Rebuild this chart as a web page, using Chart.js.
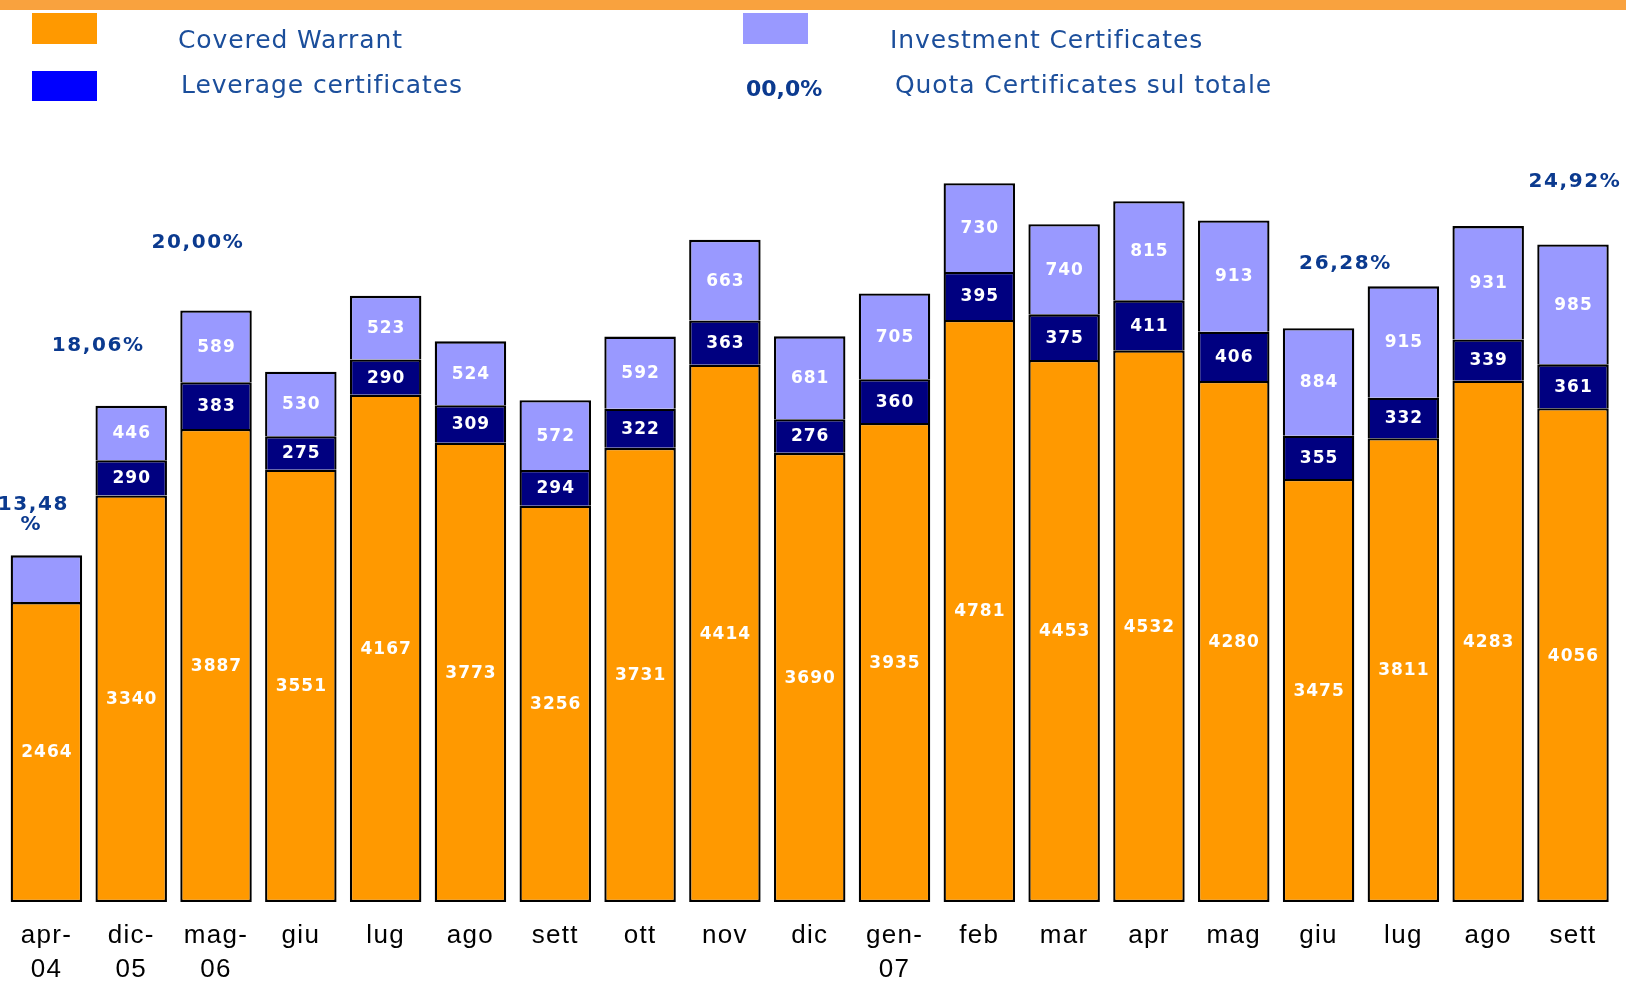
<!DOCTYPE html>
<html>
<head>
<meta charset="utf-8">
<script src="https://cdn.jsdelivr.net/npm/chart.js@4.4.1/dist/chart.umd.min.js"></script>
<style>
html,body{margin:0;padding:0;background:#fff;overflow:hidden}
#wrap{position:relative;width:1626px;height:981px}
canvas{display:block}
</style>
</head>
<body>
<div id="wrap"><canvas id="c" width="1626" height="981"></canvas></div>
<script>
// ---- data ----
const categories = [['apr-','04'],['dic-','05'],['mag-','06'],'giu','lug','ago','sett','ott','nov','dic',['gen-','07'],'feb','mar','apr','mag','giu','lug','ago','sett'];
const coveredWarrant = [2464,3340,3887,3551,4167,3773,3256,3731,4414,3690,3935,4781,4453,4532,4280,3475,3811,4283,4056];
const leverageCertificates = [null,290,383,275,290,309,294,322,363,276,360,395,375,411,406,355,332,339,361];
const investmentCertificates = [384,446,589,530,523,524,572,592,663,681,705,730,740,815,913,884,915,931,985];
const quotaCertificates = [13.48,18.06,20.00,null,null,null,null,null,null,null,null,null,null,null,null,26.28,null,null,24.92];
const seriesNames = ['Covered Warrant','Leverage certificates','Investment Certificates','Quota Certificates sul totale'];
const legendSample = '00,0%';

// ---- style ----
const COL_CW = '#FF9900', COL_LC = '#000080', COL_LC_LEG = '#0000FF', COL_IC = '#9999FF';
const TXT_BLUE = '#1B4E9B', PCT_BLUE = '#0B3A8F';

const decor = {
  id: 'decor',
  beforeDraw(chart) {
    chart.ctx.letterSpacing = '1.3px';
  },
  afterDraw(chart, args, opts) {
    const c = chart.ctx;
    c.save();
    // top stripe
    c.fillStyle = '#F9A23E';
    c.fillRect(0, 0, chart.width, 10);
    // legend swatches
    c.fillStyle = COL_CW;  c.fillRect(32, 13, 65, 31);
    c.fillStyle = COL_LC_LEG; c.fillRect(32, 71, 65, 30);
    c.fillStyle = COL_IC;  c.fillRect(743, 13, 65, 31);
    // legend texts
    c.textBaseline = 'alphabetic';
    c.textAlign = 'left';
    c.fillStyle = TXT_BLUE;
    c.font = '25px "DejaVu Sans"';
    c.letterSpacing = '0.9px';
    c.fillText(seriesNames[0], 178, 48);
    c.fillText(seriesNames[1], 181, 93);
    c.fillText(seriesNames[2], 890, 48);
    c.fillText(seriesNames[3], 895, 93);
    c.fillStyle = PCT_BLUE;
    c.font = 'bold 22px "DejaVu Sans"';
    c.letterSpacing = '0px';
    c.fillText(legendSample, 746, 96);

    // segment value labels
    c.font = 'bold 17px "DejaVu Sans"';
    c.letterSpacing = '1px';
    c.fillStyle = '#FFFFFF';
    c.textAlign = 'center';
    c.textBaseline = 'middle';
    chart.data.datasets.forEach((ds, di) => {
      const meta = chart.getDatasetMeta(di);
      meta.data.forEach((el, i) => {
        const v = ds.data[i];
        if (v == null) return;
        if (opts.skip.some(s => s.dataset === di && s.index === i)) return;
        const p = el.getProps(['x', 'y', 'base'], true);
        c.fillText(String(v), p.x + 0.5, (p.y + p.base) / 2 + 1);
      });
    });

    // percentage labels
    c.font = 'bold 20px "DejaVu Sans"';
    c.letterSpacing = '1.6px';
    c.fillStyle = PCT_BLUE;
    const topMeta = chart.getDatasetMeta(2);
    quotaCertificates.forEach((q, i) => {
      if (q == null) return;
      const off = opts.pctOffsets[i];
      const el = topMeta.data[i];
      const txt = q.toFixed(2).replace('.', ',');
      if (Array.isArray(off.dy)) {
        c.fillText(txt, el.x + off.dx, el.y + off.dy[0]);
        c.fillText('%', el.x + off.dx - 2, el.y + off.dy[1]);
      } else {
        c.fillText(txt + '%', el.x + off.dx, el.y + off.dy);
      }
    });
    c.restore();
    c.letterSpacing = '0px';
  }
};

new Chart(document.getElementById('c'), {
  type: 'bar',
  data: {
    labels: categories,
    datasets: [
      { label: seriesNames[0], data: coveredWarrant, backgroundColor: COL_CW, borderColor: '#000', borderWidth: 2.3, borderSkipped: false },
      { label: seriesNames[1], data: leverageCertificates, backgroundColor: COL_LC, borderColor: '#000', borderWidth: 2.3, borderSkipped: 'start' },
      { label: seriesNames[2], data: investmentCertificates, backgroundColor: COL_IC, borderColor: '#000', borderWidth: 2.3, borderSkipped: 'start' }
    ]
  },
  options: {
    responsive: false,
    animation: false,
    devicePixelRatio: 1,
    layout: { padding: { top: 123, left: 4, right: 10.6, bottom: 0 } },
    datasets: { bar: { categoryPercentage: 1, barPercentage: 0.843 } },
    plugins: {
      legend: { display: false },
      tooltip: { enabled: false },
      decor: {
        skip: [{ dataset: 2, index: 0 }],
        pctOffsets: {
          0: { dx: -13, dy: [-51, -31] },
          1: { dx: -33, dy: -60 },
          2: { dx: -18, dy: -68 },
          15: { dx: 27, dy: -64 },
          18: { dx: 2, dy: -63 }
        }
      }
    },
    scales: {
      x: {
        stacked: true,
        grid: { display: false, drawTicks: false },
        border: { display: false },
        ticks: {
          color: '#000',
          font: { family: '"Liberation Sans", Arial, sans-serif', size: 26, lineHeight: 1.3 },
          padding: 17,
          maxRotation: 0,
          minRotation: 0,
          autoSkip: false
        },
        afterFit(s) { s.height = 79; }
      },
      y: { stacked: true, display: false, min: 0, max: 6400 }
    }
  },
  plugins: [decor]
});
</script>
</body>
</html>
